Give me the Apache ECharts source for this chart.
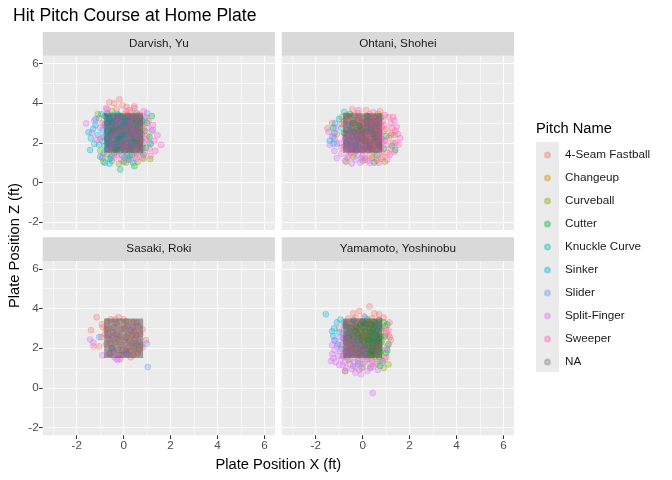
<!DOCTYPE html>
<html>
<head>
<meta charset="utf-8">
<script src="https://cdn.jsdelivr.net/npm/echarts@6/dist/echarts.min.js"></script>
<style>
  html, body { margin: 0; padding: 0; background: #fff; }
  #chart { width: 672px; height: 480px; }
</style>
</head>
<body>
<div id="chart"></div>
<script>
const pitchNames = ['4-Seam Fastball', 'Changeup', 'Curveball', 'Cutter', 'Knuckle Curve',
  'Sinker', 'Slider', 'Split-Finger', 'Sweeper', 'NA'];
const pitchColors = ['#F8766D', '#D39200', '#93AA00', '#00BA38', '#00C19F',
  '#00B9E3', '#619CFF', '#DB72FB', '#FF61C3', '#7F7F7F'];
const pitchers = ['Darvish, Yu', 'Ohtani, Shohei', 'Sasaki, Roki', 'Yamamoto, Yoshinobu'];

const xMajorTicks = [-2, 0, 2, 4, 6];
const xMinorTicks = [-3, -1, 1, 3, 5];
const zMajorTicks = [-2, 0, 2, 4, 6];
const zMinorTicks = [-1, 1, 3, 5];

// strike zone (ft)
const zoneX = [-0.83, 0.83];
const zoneZ = [1.5, 3.5];

// [plate_x, plate_z]
const darvishFourSeam = [[-0.61,4.05],[-0.41,4.0],[-0.18,4.2],[0.12,3.82],[0.45,3.75],[-0.3,3.7],[0.3,3.55],[-0.7,3.5],[0.7,3.4],[0.05,3.45],[-0.45,3.3],[0.2,3.2],[0.55,3.1],[-0.15,3.05],[-0.9,3.0],[0.85,2.95],[0.4,2.85],[-0.55,2.8],[0.0,2.7],[-0.25,2.6],[0.65,2.55],[0.3,2.45],[-0.75,2.4],[1.0,2.35],[-0.1,2.3],[0.5,2.2],[-0.4,2.15],[0.15,2.0],[0.8,1.9],[-0.6,1.85],[0.35,1.7],[-0.2,1.6],[0.6,1.45],[-0.5,1.35],[0.05,1.25],[0.95,3.3],[-1.05,3.25],[0.25,3.65],[-0.05,3.9],[-0.35,1.95],
  [0.6,2.75],[0.35,3.1],[0.1,2.85],[-0.2,3.35],[-0.45,2.6],[-0.65,2.15],[0.45,1.95],[0.7,2.2],[-0.3,2.35],[0.0,1.85],[0.25,2.5],[-0.6,3.15],[0.5,3.35],[-0.1,1.75],[0.8,2.65],
  [0.45,3.25],[0.15,3.4],[-0.1,3.1],[-0.35,2.85],[-0.55,2.35],[0.3,2.0],[0.55,2.4],[0.75,3.0],[-0.75,2.8],[0.05,2.2],[-0.2,1.85],[0.4,2.6]];
const darvishChangeup = [[0.1,2.4],[-0.3,1.7]];
const darvishCurveball = [[-0.91,1.23],[-0.87,1.05],[1.13,1.18],[-0.5,1.1],[-0.2,0.95],[0.1,1.0],[0.3,1.15],[0.6,1.05],[0.85,1.2],[-0.7,1.45],[-0.3,1.55],[0.45,1.5],[-1.0,1.6],[0.15,1.35],[-0.1,1.75],[0.7,1.6],[-1.1,3.45],[-0.5,3.6],
  [0.3,1.75],[-0.4,1.75],[0.55,2.1],[-0.15,2.2],[0.05,2.95],[-0.6,2.7],[0.65,2.85],[0.2,3.35]];
const darvishCutter = [[1.2,3.35],[0.46,0.83],[1.0,3.0],[0.9,2.6],[0.75,2.15],[0.55,3.5],[0.35,1.4],[0.2,2.9],[-0.05,3.3],[0.05,1.6],[-0.3,2.2],[-0.5,3.0],[-0.65,2.0],[0.6,1.8],[0.85,1.4],[1.1,2.3],[0.3,2.3],[-0.15,2.65],[-0.8,3.35],[0.0,1.05],[0.95,1.75],[0.7,3.0],[-0.4,1.5],[0.4,3.2],[1.15,1.95],
  [0.7,3.25],[0.55,2.7],[0.45,2.05],[0.3,2.6],[0.15,3.1],[0.1,2.0],[-0.1,2.45],[-0.2,1.9],[-0.45,2.65],[-0.6,3.25],[0.65,1.95],[0.5,3.0],[-0.05,2.8],[0.35,1.85],[0.75,2.45],
  [0.8,3.1],[0.6,2.55],[0.4,2.75],[0.25,1.65],[0.05,3.2],[-0.15,2.3],[-0.35,2.75],[-0.55,2.45],[0.55,2.05],[0.8,1.75],[0.15,2.6],[-0.25,3.4]];
const darvishKnuckle = [[-0.14,0.66],[-0.6,1.2],[0.25,1.3],[-0.3,2.0],[0.5,2.6],[-0.9,2.1],
  [0.4,2.35],[-0.5,2.55],[0.1,3.0],[-0.2,2.15],[0.6,1.85],[-0.7,3.0],[0.25,1.7],[0.0,2.35],
  [0.3,2.05],[-0.35,1.65],[0.55,3.1],[-0.1,2.8],[0.7,2.35]];
const darvishSinker = [[-1.5,2.53],[-1.4,2.23],[-1.43,1.64],[-0.8,1.0],[-1.2,2.9],[-1.1,2.4],[-1.05,1.9],[-1.2,3.2],[-0.95,3.45],[-0.9,2.65],[-0.85,1.5],[-0.7,2.2],[-0.65,3.1],[-0.55,1.25],[-0.45,2.7],[-0.35,1.8],[-0.25,3.45],[-0.15,2.4],[-0.05,1.35],[-1.3,2.7],[-1.0,1.3],[0.2,1.2],[0.4,1.0],[-0.6,0.95],[-1.25,1.95],
  [-0.75,3.3],[-0.6,2.85],[-0.5,2.35],[-0.4,1.95],[-0.3,3.2],[-0.2,2.75],[-0.1,2.1],[0.0,3.05],[0.1,2.55],[0.2,1.75],[0.3,3.3],[0.4,2.2],[-0.7,1.7],[-0.55,3.05],[-0.25,1.7],[-0.65,2.5],[0.05,2.25],[-0.35,2.55],[0.25,2.85],[-0.15,3.35],
  [-0.8,2.95],[-0.7,2.6],[-0.45,3.4],[-0.35,2.9],[-0.6,2.05],[-0.15,2.95],[0.0,2.45],[-0.5,1.75],[-0.8,1.85],[-0.25,2.2],[0.15,3.15],[-0.05,1.9],[-0.4,3.1],[-0.7,3.45],[-0.85,2.3]];
const darvishSlider = [[1.25,2.65],[1.1,2.0],[0.9,3.2],[0.6,2.4],[0.3,1.9],[0.0,2.9],[-0.3,3.1],[-0.5,1.9],[0.75,1.55],[1.0,3.5],[0.1,1.5],[-0.7,2.6],
  [0.5,2.85],[0.4,1.8],[0.2,2.35],[-0.1,2.65],[-0.35,2.0],[-0.55,2.9],[0.65,3.15],[0.1,3.25],[-0.2,1.75],[0.75,2.1],[-0.7,2.25],[0.3,2.95],
  [0.45,2.4],[0.25,3.2],[0.0,2.05],[-0.3,2.45],[-0.6,1.95],[0.7,2.85],[0.55,1.7],[-0.05,3.1],[0.35,2.15],[-0.45,3.25]];
const darvishSplit = [[-1.6,2.98],[-1.35,2.5],[-1.15,2.15],[-0.9,1.3],[-0.6,1.6],[-0.4,1.25],[-0.1,1.4],[0.2,1.15],[0.5,1.35],[-1.25,3.1],[-1.0,2.75],[-0.75,3.75],[0.0,1.9],[-0.45,2.35],[0.35,2.65]];
const darvishSweeper = [[1.44,2.38],[1.6,1.9],[1.3,2.1],[1.2,2.6],[1.1,1.7],[1.25,2.9],[0.95,2.2],[0.9,1.5],[1.05,3.1],[0.7,2.0],[0.75,2.8],[0.5,1.6],[0.6,3.3],[0.4,2.5],[0.2,1.8],[0.3,3.0],[0.0,2.1],[-0.2,3.3],[-0.4,2.5],[-0.6,1.7],[-0.8,2.9],[-1.0,2.2],[0.1,3.6],[-0.3,1.4],[0.85,3.6],[0.45,3.85],[1.35,1.6],[1.15,1.35],[0.55,1.2],[0.15,2.7],[-0.1,1.15],[0.65,2.45],[1.0,2.75],[0.8,1.25],[-0.7,3.7],
  [0.7,3.05],[0.6,2.3],[0.5,1.9],[0.35,2.75],[0.25,2.2],[0.1,1.65],[-0.05,2.6],[-0.25,3.0],[-0.5,2.2],[0.75,1.7],[0.4,3.35],[-0.15,1.95],[0.15,2.9],[0.55,2.55],[-0.4,2.85],
  [0.8,2.45],[0.65,1.9],[0.45,2.65],[0.3,3.25],[0.2,2.45],[0.05,1.8],[-0.2,2.5],[-0.45,1.85],[0.6,3.4],[0.85,2.05],[0.35,1.6],[-0.3,3.2]];

const ohtaniFourSeam = [[-1.5,2.73],[-0.44,3.69],[0.74,3.6],[-0.2,3.5],[0.3,3.45],[-0.7,3.4],[0.55,3.3],[0.0,3.25],[-0.4,3.15],[0.85,3.1],[0.2,3.0],[-0.9,2.95],[-0.1,2.85],[0.5,2.8],[1.0,2.7],[-0.6,2.65],[0.25,2.6],[-0.3,2.5],[0.7,2.45],[1.2,2.4],[-1.1,2.45],[0.05,2.35],[-0.75,2.2],[0.45,2.2],[0.95,2.1],[-0.2,2.05],[1.3,2.0],[-0.5,1.95],[0.2,1.85],[0.7,1.8],[-0.9,1.75],[0.0,1.6],[0.5,1.55],[1.05,1.5],[-0.35,1.45],[0.3,1.35],[0.85,1.3],[-0.65,1.25],[0.1,1.15],[0.6,1.1],[-0.15,3.0],[0.4,2.45],[-0.45,2.75],[0.9,2.6],[-0.8,3.1],[0.15,3.65],[1.1,3.3],[-1.3,3.0],[-1.2,2.2],[0.65,2.0],[-0.05,1.95],[0.35,3.2],[-0.6,1.6],[1.25,2.75],[0.8,1.2],
  [-0.7,3.2],[-0.55,2.9],[-0.4,2.6],[-0.25,2.3],[-0.1,2.0],[0.05,1.7],[0.2,3.35],[0.35,3.05],[0.5,2.65],[0.65,2.3],[0.75,1.95],[-0.75,1.85],[-0.6,2.4],[-0.45,2.05],[-0.3,1.75],[-0.15,3.3],[0.0,2.95],[0.15,2.55],[0.3,2.15],[0.45,1.8],[0.6,3.3],[0.75,2.95],[-0.7,2.65],[-0.35,3.4],[0.1,2.25],[0.55,2.4],[-0.5,1.65],[0.25,1.65],[-0.2,2.7],[0.4,2.9],[0.7,2.6],[-0.05,2.45],[-0.65,1.95],[0.15,3.1],[0.5,2.05],
  [-0.6,3.35],[-0.45,3.0],[-0.3,2.9],[-0.15,2.6],[0.0,2.2],[0.15,1.95],[0.3,3.3],[0.45,2.55],[0.6,2.15],[0.75,1.75],[-0.75,2.45],[-0.55,2.15],[-0.4,1.85],[-0.2,3.15],[-0.05,2.75],[0.1,2.45],[0.25,2.05],[0.4,1.7],[0.55,3.15],[0.7,2.8],[-0.8,2.95],[-0.25,1.65],[0.2,2.8],[0.65,2.55],[-0.1,2.35]];
const ohtaniCurveball = [[-0.7,1.05],[-0.4,1.3],[0.0,1.1],[0.4,1.25],[1.35,2.4],[-0.9,3.3],[0.65,3.45],[0.95,1.05]];
const ohtaniCutter = [[1.39,1.64],[0.5,1.01],[1.0,2.35],[0.6,1.4],[0.3,1.75],[0.0,2.5],[-0.4,3.0],[-0.8,2.5],[-1.25,2.75],[0.75,3.25],[0.2,3.35],[-0.2,2.2],[1.25,1.85],[0.9,1.7],[-0.55,3.45],
  [0.55,2.25],[0.35,2.7],[0.1,2.1],[-0.15,2.85],[-0.45,2.3],[0.7,1.9],[0.2,3.1],[-0.3,1.9],
  [0.45,2.45],[0.2,2.75],[-0.05,2.65],[-0.35,2.55],[0.6,2.95],[0.3,1.9]];
const ohtaniSinker = [[-0.78,3.56],[-1.18,2.98],[-1.2,2.5],[-1.4,2.1],[-1.25,1.97],[-0.9,2.75],[-0.7,2.0],[-0.5,2.6],[-1.0,3.2],[-0.3,1.6]];
const ohtaniSlider = [[-0.04,1.22],[-1.25,2.3],[-0.6,2.9],[0.3,2.6],[0.8,2.2],[-1.1,1.95]];
const ohtaniSplit = [[-1.1,1.23],[-0.47,0.96],[-1.4,1.9],[-1.2,1.6],[-1.3,2.35],[-0.9,1.45],[-0.75,1.1],[-0.6,1.35],[-0.3,1.15],[-0.1,1.0],[0.1,1.25],[-1.0,2.0],[-0.8,1.8],[-0.5,1.7],[-0.2,1.4],[-1.45,2.55],[-1.15,2.75],[-0.65,2.1],[0.3,0.98],[-0.35,1.9],
  [-0.7,1.7],[-0.5,1.85],[-0.35,2.1],[-0.2,1.8],[-0.6,2.3],[0.0,1.65],[-0.75,2.1],[-0.4,2.4],[-0.1,2.2],[0.15,1.7],
  [-0.65,1.85],[-0.45,1.7],[-0.3,2.25],[-0.15,1.95],[-0.55,2.5],[0.05,1.85],[-0.75,2.3],[-0.25,1.6]];
const ohtaniSweeper = [[1.35,3.12],[1.6,2.23],[1.53,1.92],[1.4,2.6],[1.3,3.3],[1.45,2.8],[1.2,1.7],[1.1,2.25],[1.0,1.9],[1.15,1.4],[1.35,1.55],[0.9,2.9],[0.95,3.4],[0.8,1.55],[0.75,2.3],[0.6,2.65],[0.55,1.25],[0.4,1.7],[0.3,2.9],[0.15,2.2],[0.0,1.35],[-0.18,3.64],[-0.25,2.4],[-0.5,1.5],[0.65,3.05],[1.25,2.5],[1.05,1.15],[0.25,1.1],[0.45,3.55],[1.5,2.45],[0.85,2.05],[-0.1,1.7],[1.2,3.0],[0.7,1.0],[1.4,2.0],
  [0.7,3.15],[0.6,2.8],[0.5,2.2],[0.4,1.65],[0.3,2.45],[0.2,2.05],[0.75,2.5],[0.65,1.85],[0.1,2.75],[0.45,3.1],[-0.05,2.2],[0.35,1.95],[0.55,2.95],[0.8,2.2],[0.25,3.2],[0.6,1.65],[-0.2,2.55],[0.15,1.8],[0.7,2.05],[0.05,3.05],
  [0.8,2.8],[0.65,2.4],[0.45,1.9],[0.3,2.65],[0.15,2.35],[0.5,3.25],[0.75,1.7],[0.0,2.55],[0.35,3.0],[0.6,2.0],[0.2,1.6],[0.8,3.3]];

const sasakiFourSeam = [[-1.15,3.56],[-1.39,2.91],[-1.29,2.09],[-1.04,2.09],[-0.92,3.2],[-0.89,3.05],[-0.21,3.56],[0.95,2.4],[0.81,2.05],[0.3,1.54],[-0.55,3.45],[0.0,3.45],[0.4,3.3],[0.6,3.1],[-0.3,3.25],[-0.65,3.0],[0.15,3.1],[-0.1,2.95],[0.45,2.85],[-0.45,2.8],[0.7,2.7],[-0.8,2.7],[0.2,2.7],[-0.2,2.6],[0.5,2.5],[-0.6,2.45],[0.05,2.4],[-0.35,2.3],[0.35,2.25],[0.65,2.3],[-0.75,2.2],[-0.1,2.15],[0.2,2.05],[-0.5,2.0],[0.5,1.95],[-0.25,1.9],[0.1,1.85],[0.6,1.75],[-0.6,1.75],[-0.05,1.65],[0.3,2.9],[-0.4,3.05],[0.1,2.55],[0.56,3.28],[-0.15,1.45],[0.8,2.95],[-0.95,2.55],[0.25,1.85],[0.45,2.1],[-0.3,2.7],
  [-0.7,3.35],[-0.35,3.45],[0.1,3.35],[0.55,2.65],[0.75,2.15],[0.4,1.65],[-0.05,1.9],[-0.55,2.25],[-0.25,2.45],[0.25,2.35],[0.05,3.0],[-0.75,2.95],[0.65,1.9],[-0.45,1.85],[0.35,2.65]];
const sasakiSlider = [[-1.04,2.56],[0.98,2.23],[1.03,1.05],[0.15,1.7],[-0.5,2.0],[0.55,2.2]];
const sasakiSplit = [[-1.43,2.44],[-1.29,2.28],[-0.91,1.64],[-0.25,1.4],[-0.6,1.7],[-0.4,1.55],[-0.15,1.65],[0.1,1.75],[-0.66,2.65],[-0.5,2.6],[0.39,3.0],[-0.3,1.45]];

const yamamotoFourSeam = [[-0.14,3.87],[0.29,4.1],[1.14,3.3],[1.2,2.4],[1.15,2.55],[-0.6,3.5],[-0.3,3.55],[0.05,3.6],[0.4,3.5],[0.7,3.45],[-0.8,3.3],[-0.45,3.3],[-0.1,3.35],[0.25,3.3],[0.6,3.2],[0.95,3.1],[-0.7,3.1],[-0.25,3.1],[0.1,3.05],[0.45,3.0],[0.8,2.9],[-0.55,2.9],[-0.05,2.85],[0.3,2.8],[1.0,2.75],[-0.85,2.75],[-0.35,2.7],[0.15,2.65],[0.6,2.65],[-0.6,2.55],[0.0,2.5],[0.4,2.45],[0.85,2.45],[-0.2,2.4],[-0.75,2.35],[0.25,2.3],[0.65,2.25],[-0.45,2.2],[0.05,2.15],[1.05,2.1],[-0.15,2.0],[0.45,2.0],[-0.6,1.95],[0.8,1.9],[0.2,1.8],[-0.3,1.75],[0.55,1.65],[-0.05,1.6],[1.0,1.55],[-0.8,1.6],[0.35,1.5],[0.7,3.7],[-0.4,3.75],[0.9,3.55],[1.1,2.9],[-1.0,3.0],[0.3,2.1],[-0.95,2.15],[0.75,1.4],[0.5,3.75],
  [-0.7,3.25],[-0.5,3.05],[-0.3,2.85],[-0.1,2.6],[0.1,2.35],[0.3,2.05],[0.5,1.85],[0.7,2.7],[-0.65,2.7],[-0.45,2.45],[-0.25,2.2],[-0.05,1.95],[0.15,3.2],[0.35,2.95],[0.55,2.5],[0.75,2.2],[-0.75,1.95],[-0.55,1.7],[-0.35,3.4],[0.0,3.15],[0.2,2.9],[0.4,2.6],[0.6,2.35],[-0.15,1.7],[0.25,1.65],[0.65,3.0],[-0.4,2.9],[0.05,2.75],[0.45,3.35],[-0.6,2.25],
  [-0.75,3.1],[-0.55,2.85],[-0.35,2.55],[-0.15,2.3],[0.05,2.05],[0.25,2.75],[0.45,2.3],[0.65,2.05],[-0.65,2.05],[-0.45,3.2],[-0.2,2.95],[0.0,2.65],[0.2,3.35],[0.4,3.15],[0.6,2.85],[0.8,2.6],[-0.5,1.85],[-0.25,1.8],[0.1,1.7],[0.5,2.15],[-0.8,2.5],[0.35,1.8],[-0.05,3.3],[0.7,3.25],[-0.3,3.25]];
const yamamotoCurveball = [[-0.74,0.84],[1.1,1.18],[-0.4,1.1],[0.0,1.2],[0.35,1.05],[0.6,1.2],[0.85,1.35],[-0.6,1.4],[-0.2,1.35],[0.2,1.45],[0.5,1.55],[0.75,1.7],[-0.85,1.6],[-0.45,1.65],[-0.1,1.8],[0.3,1.7],[0.1,2.1],[-0.3,2.0],[0.55,2.05],[-0.65,2.5],[0.4,2.7],[-0.2,3.0],[0.7,2.5],[0.9,1.0],[-0.05,1.0],
  [-0.6,1.85],[-0.35,1.8],[-0.1,1.65],[0.15,1.9],[0.4,1.75],[0.65,1.95],[-0.5,2.15],[-0.2,2.35],[0.1,2.55],[0.35,2.35],[0.6,2.7],[-0.7,2.3],[-0.05,2.8],[0.25,3.2],[0.5,3.05],
  [-0.45,1.95],[-0.2,1.7],[0.05,2.3],[0.3,1.9],[0.55,1.85],[-0.6,2.6],[-0.35,2.25],[0.2,2.65],[0.45,2.5],[-0.1,2.55]];
const yamamotoCutter = [[1.05,3.2],[1.05,1.9],[1.0,1.75],[0.74,1.1],[0.9,3.3],[0.7,3.4],[0.5,3.3],[0.2,3.45],[-0.1,3.2],[0.6,2.9],[0.95,2.6],[0.8,2.3],[0.5,2.4],[0.2,2.5],[-0.2,2.7],[-0.5,3.0],[0.4,1.85],[0.7,1.55],[1.1,2.2],[0.3,3.0],[-0.4,2.35],[0.0,1.9],
  [0.7,3.1],[0.55,2.75],[0.4,2.25],[0.25,1.95],[0.1,2.85],[0.6,2.1],[0.75,2.55],[0.35,3.2],[-0.05,2.4],[0.2,2.2],[0.5,1.75],[0.65,2.45],[-0.25,3.05],[0.45,2.9],[0.0,3.35],[0.3,2.6],[-0.4,2.6],[0.75,1.8],[0.15,1.7],[-0.1,2.15],
  [0.8,3.0],[0.6,2.6],[0.45,2.1],[0.25,2.4],[0.05,3.05],[0.35,2.8],[0.55,3.2],[0.7,2.25],[0.15,2.0],[-0.15,2.5],[0.4,1.65],[0.75,2.0],[-0.3,2.85],[0.1,3.25],[0.5,2.55]];
const yamamotoSinker = [[-1.57,3.71],[-1.22,3.0],[-1.25,2.61],[-1.2,2.38],[-1.1,3.3],[-1.0,2.8],[-0.95,3.45],[-0.85,2.5],[-0.75,3.2],[-0.9,1.95],[-0.6,2.75],[-1.3,2.85],[-0.4,3.4],[-1.05,2.2]];
const yamamotoSlider = [[0.84,1.26],[0.1,3.55],[-0.3,2.2],[0.5,2.6],[-0.8,2.9],[0.2,1.6],[0.65,3.1],[-0.2,1.2]];
const yamamotoSplit = [[-0.31,0.76],[-0.07,0.68],[0.43,-0.27],[-0.85,1.14],[0.32,0.98],[-1.3,1.7],[-1.25,1.5],[-1.2,1.9],[-1.15,1.3],[-1.1,2.1],[-1.05,1.6],[-1.0,1.15],[-0.95,1.85],[-0.9,1.45],[-0.85,2.2],[-0.8,1.7],[-0.75,1.3],[-0.7,1.0],[-0.65,1.55],[-0.6,1.95],[-0.55,1.2],[-0.5,1.45],[-0.45,0.95],[-0.4,1.75],[-0.35,1.3],[-0.3,1.05],[-0.2,1.5],[-0.15,0.9],[-0.1,1.25],[0.0,1.05],[0.1,1.35],[0.2,0.85],[0.3,1.2],[0.45,1.05],[0.55,1.3],[-1.2,2.4],[-1.3,2.15],[-0.95,2.55],[-0.55,1.75],[-0.25,1.65],[0.05,1.55],[0.65,0.9],[-0.75,0.85],[1.03,1.96],[-1.35,1.35],
  [-0.75,1.75],[-0.55,2.05],[-0.4,1.9],[-0.2,1.85],[0.0,1.75],[-0.65,2.4],[-0.3,2.5],[0.15,2.0],[-0.75,2.6],[-0.1,2.3],
  [-0.6,1.7],[-0.4,2.15],[-0.15,2.1],[0.1,1.85],[-0.7,2.5],[-0.5,2.35]];
const yamamotoSweeper = [[1.1,2.65],[0.95,1.45],[0.7,2.05],[0.4,1.35],[1.0,2.95],[0.6,1.8]];

// which array belongs to which pitcher / pitch name
const pitchData = [
  { '4-Seam Fastball': darvishFourSeam, 'Changeup': darvishChangeup, 'Curveball': darvishCurveball,
    'Cutter': darvishCutter, 'Knuckle Curve': darvishKnuckle, 'Sinker': darvishSinker,
    'Slider': darvishSlider, 'Split-Finger': darvishSplit, 'Sweeper': darvishSweeper },
  { '4-Seam Fastball': ohtaniFourSeam, 'Curveball': ohtaniCurveball, 'Cutter': ohtaniCutter,
    'Sinker': ohtaniSinker, 'Slider': ohtaniSlider, 'Split-Finger': ohtaniSplit, 'Sweeper': ohtaniSweeper },
  { '4-Seam Fastball': sasakiFourSeam, 'Slider': sasakiSlider, 'Split-Finger': sasakiSplit },
  { '4-Seam Fastball': yamamotoFourSeam, 'Curveball': yamamotoCurveball, 'Cutter': yamamotoCutter,
    'Sinker': yamamotoSinker, 'Slider': yamamotoSlider, 'Split-Finger': yamamotoSplit,
    'Sweeper': yamamotoSweeper }
];

function rgba(hex, a) {
  const n = parseInt(hex.slice(1), 16);
  return 'rgba(' + (n >> 16) + ',' + ((n >> 8) & 255) + ',' + (n & 255) + ',' + a + ')';
}

const FONT = 'Liberation Sans, Arial, sans-serif';
const panelLeft = [42.7, 281.7];
const panelTop = [55.7, 261];
const panelW = 232.3;
const panelH = 174.3;
const stripH = 23.7;

const grids = [];
const xAxes = [];
const yAxes = [];
const series = [];
const graphics = [];

for (let i = 0; i < pitchers.length; i++) {
  const col = i % 2, row = Math.floor(i / 2);
  const bottom = row === 1, left = col === 0;
  grids.push({
    left: panelLeft[col], top: panelTop[row], width: panelW, height: panelH,
    show: true, backgroundColor: '#EBEBEB', borderWidth: 0
  });
  // major axis (ticks, labels, thick grid) + minor axis (thin grid only)
  xAxes.push({
    gridIndex: i, type: 'value', min: -3.45, max: 6.45, position: 'bottom',
    axisLine: { show: false, onZero: false },
    axisTick: { show: bottom, length: 3.7, customValues: xMajorTicks, lineStyle: { color: '#333333', width: 1 } },
    axisLabel: { show: bottom, customValues: xMajorTicks, color: '#4D4D4D', fontSize: 11.7, fontFamily: FONT, margin: 4 },
    splitLine: { show: true, lineStyle: { color: '#FFFFFF', width: 1.1 } }
  });
  xAxes.push({
    gridIndex: i, type: 'value', min: -3.45, max: 6.45, position: 'bottom',
    axisLine: { show: false, onZero: false },
    axisTick: { show: false, customValues: xMinorTicks },
    axisLabel: { show: false },
    splitLine: { show: true, lineStyle: { color: '#FFFFFF', width: 0.55 } }
  });
  yAxes.push({
    gridIndex: i, type: 'value', min: -2.4, max: 6.4, position: 'left',
    axisLine: { show: false, onZero: false },
    axisTick: { show: left, length: 3.7, customValues: zMajorTicks, lineStyle: { color: '#333333', width: 1 } },
    axisLabel: { show: left, customValues: zMajorTicks, color: '#4D4D4D', fontSize: 11.7, fontFamily: FONT, margin: 4 },
    splitLine: { show: true, lineStyle: { color: '#FFFFFF', width: 1.1 } }
  });
  yAxes.push({
    gridIndex: i, type: 'value', min: -2.4, max: 6.4, position: 'left',
    axisLine: { show: false, onZero: false },
    axisTick: { show: false, customValues: zMinorTicks },
    axisLabel: { show: false },
    splitLine: { show: true, lineStyle: { color: '#FFFFFF', width: 0.55 } }
  });

  pitchNames.forEach(function (name, k) {
    series.push({
      name: name, type: 'scatter', xAxisIndex: 2 * i, yAxisIndex: 2 * i,
      data: pitchData[i][name] || [],
      symbol: 'circle', symbolSize: 6, silent: true,
      itemStyle: { color: rgba(pitchColors[k], 0.38), borderColor: rgba(pitchColors[k], 0.5), borderWidth: 0.8 },
      emphasis: { disabled: true }
    });
  });

  series.push({
    type: 'custom', xAxisIndex: 2 * i, yAxisIndex: 2 * i, silent: true, z: 5,
    data: [[zoneX[0], zoneZ[0], zoneX[1], zoneZ[1]]],
    encode: { x: [0, 2], y: [1, 3] },
    renderItem: function (params, api) {
      const p0 = api.coord([api.value(0), api.value(3)]);
      const p1 = api.coord([api.value(2), api.value(1)]);
      return {
        type: 'rect',
        shape: { x: p0[0], y: p0[1], width: p1[0] - p0[0], height: p1[1] - p0[1] },
        style: { fill: 'rgba(75,75,75,0.5)' }
      };
    }
  });

  graphics.push({
    type: 'rect', left: panelLeft[col], top: panelTop[row] - stripH,
    shape: { width: panelW, height: stripH }, style: { fill: '#D9D9D9' }
  });
  graphics.push({
    type: 'text', x: panelLeft[col] + panelW / 2, y: panelTop[row] - stripH / 2,
    style: { text: pitchers[i], fill: '#1A1A1A', font: '11.7px ' + FONT, textAlign: 'center', textVerticalAlign: 'middle' }
  });
}

// axis titles, legend title and key background
graphics.push({
  type: 'text', x: panelLeft[0] + (panelLeft[1] + panelW - panelLeft[0]) / 2, y: 465,
  style: { text: 'Plate Position X (ft)', fill: '#000000', font: '14.7px ' + FONT, textAlign: 'center', textVerticalAlign: 'middle' }
});
graphics.push({
  type: 'text', x: 15, y: (panelTop[0] + panelTop[1] + panelH) / 2, rotation: Math.PI / 2,
  style: { text: 'Plate Position Z (ft)', fill: '#000000', font: '14.7px ' + FONT, textAlign: 'center', textVerticalAlign: 'middle' }
});
graphics.push({
  type: 'text', x: 536, y: 129,
  style: { text: 'Pitch Name', fill: '#000000', font: '14.7px ' + FONT, textAlign: 'left', textVerticalAlign: 'middle' }
});
graphics.push({
  type: 'rect', left: 536, top: 142, shape: { width: 23, height: 230 }, style: { fill: '#EBEBEB' }
});

const chart = echarts.init(document.getElementById('chart'), null, { renderer: 'canvas' });
chart.setOption({
  animation: false,
  backgroundColor: '#FFFFFF',
  title: {
    text: 'Hit Pitch Course at Home Plate', left: 13, top: 7, padding: 0,
    textStyle: { fontSize: 17.6, fontWeight: 'normal', color: '#000000', fontFamily: FONT }
  },
  legend: {
    orient: 'vertical', left: 544, top: 148, padding: 0,
    itemWidth: 25, itemHeight: 5, itemGap: 9, icon: 'circle',
    selectedMode: false, data: pitchNames,
    textStyle: { fontSize: 11.7, color: '#1A1A1A', fontFamily: FONT, lineHeight: 14 }
  },
  graphic: graphics,
  grid: grids,
  xAxis: xAxes,
  yAxis: yAxes,
  series: series
});
</script>
</body>
</html>
